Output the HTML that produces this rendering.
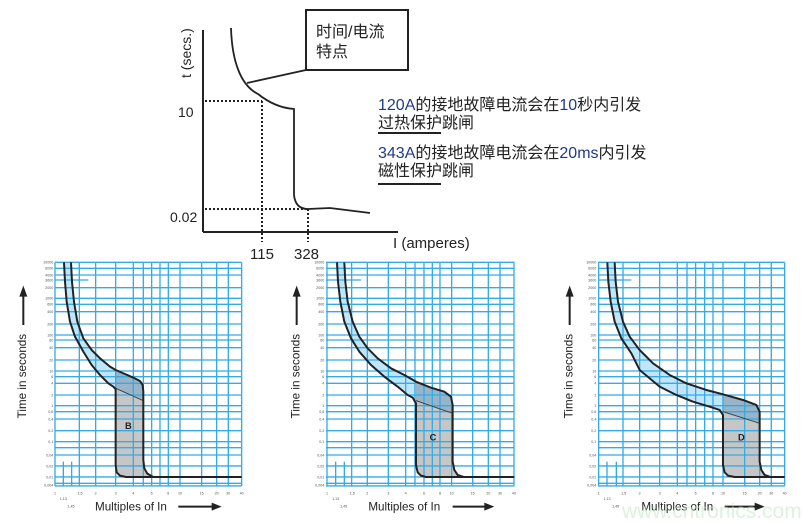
<!DOCTYPE html>
<html><head><meta charset="utf-8"><style>
html,body{margin:0;padding:0;background:#fff;width:803px;height:523px;overflow:hidden}
svg{display:block}
.g line{stroke:#35abe6;stroke-width:4}
.yl text{font-family:"Liberation Sans",sans-serif;font-size:11px;fill:#555;text-anchor:end}
.xl text{font-family:"Liberation Sans",sans-serif;font-size:11px;fill:#555;text-anchor:middle}
.cv{fill:none;stroke:#222;stroke-width:6;stroke-linejoin:round}
.ttl{font-family:"Liberation Sans",sans-serif;font-size:35px;fill:#222}
</style></head><body>
<svg width="803" height="523" viewBox="0 0 803 523" xmlns="http://www.w3.org/2000/svg">
<g font-family="Liberation Sans, sans-serif" fill="#222">
<line x1="203" y1="30" x2="203" y2="232" stroke="#222" stroke-width="2"/>
<line x1="203" y1="232" x2="398" y2="232" stroke="#222" stroke-width="2"/>
<text transform="translate(191,78) rotate(-90)" font-size="14">t (secs.)</text>
<text x="178" y="117" font-size="14">10</text>
<text x="170" y="222" font-size="14">0.02</text>
<path d="M231,28 C232,60 240,85 258,94 C268,102 280,108 294,109 L294,195 C295,205 300,209 308,209 L330,208 L370,213" fill="none" stroke="#222" stroke-width="1.8"/>
<line x1="247" y1="83" x2="306" y2="70" stroke="#222" stroke-width="1.8"/>
<rect x="306" y="10" width="102" height="60" fill="#fff" stroke="#222" stroke-width="2"/>
<text x="316" y="37" font-size="16" font-family="Liberation Sans, Noto Sans CJK SC, sans-serif">时间/电流</text>
<text x="316" y="57" font-size="16" font-family="Liberation Sans, Noto Sans CJK SC, sans-serif">特点</text>
<g stroke="#222" stroke-width="2" stroke-dasharray="2,2">
<line x1="205" y1="101" x2="262" y2="101"/><line x1="262" y1="101" x2="262" y2="242"/>
<line x1="205" y1="209" x2="308" y2="209"/><line x1="308" y1="209" x2="308" y2="242"/>
</g>
<text x="250" y="259" font-size="15">115</text>
<text x="294" y="259" font-size="15">328</text>
<text x="393" y="248" font-size="15">I (amperes)</text>
<g font-size="16" font-family="Liberation Sans, Noto Sans CJK SC, sans-serif">
<text x="378" y="110"><tspan fill="#1f3a8a">120A</tspan>的接地故障电流会在<tspan fill="#1f3a8a">10</tspan>秒内引发</text>
<text x="378" y="128">过热保护跳闸</text>
<text x="378" y="158"><tspan fill="#1f3a8a">343A</tspan>的接地故障电流会在<tspan fill="#1f3a8a">20ms</tspan>内引发</text>
<text x="378" y="176">磁性保护跳闸</text>
</g>
<rect x="378" y="132" width="63" height="2"/>
<rect x="378" y="183" width="63" height="2"/>
</g>

<g transform="translate(0,255) scale(0.3333)">
<polygon fill="#bfe6fb" points="213,22 216,80 222,140 232,200 250,250 275,285 300,310 330,335 347,345 347,402 340,395 325,385 300,360 275,330 250,290 225,245 210,200 200,140 195,80 192,22"/>
<polygon fill="#98b4c8" points="347,345 375,357 400,368 420,378 428,390 430,410 430,437 347,402"/>
<polygon fill="#c6c6c6" points="347,402 430,437 430,615 433,640 442,656 460,666 378,666 360,662 350,652 347,630"/>
<g class="g">
<line x1="165" y1="22" x2="725" y2="22"/><line x1="165" y1="40" x2="725" y2="40"/><line x1="165" y1="60" x2="725" y2="60"/><line x1="165" y1="75" x2="265" y2="75"/><line x1="165" y1="98" x2="725" y2="98"/><line x1="165" y1="130" x2="725" y2="130"/><line x1="165" y1="148" x2="725" y2="148"/><line x1="165" y1="170" x2="725" y2="170"/><line x1="165" y1="207" x2="725" y2="207"/><line x1="165" y1="240" x2="725" y2="240"/><line x1="165" y1="255" x2="725" y2="255"/><line x1="165" y1="278" x2="725" y2="278"/><line x1="165" y1="315" x2="725" y2="315"/><line x1="165" y1="348" x2="725" y2="348"/><line x1="165" y1="365" x2="725" y2="365"/><line x1="165" y1="385" x2="725" y2="385"/><line x1="165" y1="420" x2="725" y2="420"/><line x1="165" y1="452" x2="725" y2="452"/><line x1="165" y1="470" x2="725" y2="470"/><line x1="165" y1="492" x2="725" y2="492"/><line x1="165" y1="527" x2="725" y2="527"/><line x1="165" y1="560" x2="725" y2="560"/><line x1="165" y1="578" x2="725" y2="578"/><line x1="165" y1="600" x2="725" y2="600"/><line x1="165" y1="633" x2="725" y2="633"/><line x1="165" y1="666" x2="725" y2="666"/><line x1="165" y1="685" x2="725" y2="685"/><line x1="165" y1="693" x2="725" y2="693"/>
<line x1="165" y1="22" x2="165" y2="693"/><line x1="190" y1="620" x2="190" y2="693"/><line x1="215" y1="620" x2="215" y2="693"/><line x1="238" y1="22" x2="238" y2="693"/><line x1="287" y1="22" x2="287" y2="693"/><line x1="347" y1="22" x2="347" y2="693"/><line x1="400" y1="22" x2="400" y2="693"/><line x1="430" y1="22" x2="430" y2="693"/><line x1="455" y1="22" x2="455" y2="693"/><line x1="480" y1="22" x2="480" y2="693"/><line x1="505" y1="22" x2="505" y2="693"/><line x1="540" y1="22" x2="540" y2="693"/><line x1="605" y1="22" x2="605" y2="693"/><line x1="650" y1="22" x2="650" y2="693"/><line x1="685" y1="22" x2="685" y2="693"/><line x1="725" y1="22" x2="725" y2="693"/>
</g>
<line x1="347" y1="400" x2="430" y2="437" stroke="#444" stroke-width="3"/>
<polyline class="cv" points="213,22 216,80 222,140 232,200 250,250 275,285 300,310 330,335 347,345 375,357 400,368 420,378 428,390 430,410 430,615 433,640 442,656 460,666 725,666"/>
<polyline class="cv" points="192,22 195,80 200,140 210,200 225,245 250,290 275,330 300,360 325,385 340,395 347,402 347,630 350,652 360,662 378,666 460,666"/>
<text x="385" y="522" font-family="Liberation Sans,sans-serif" font-weight="bold" font-size="28" text-anchor="middle" fill="#222">B</text>
<g class="yl"><text x="160" y="26">10000</text><text x="160" y="44">6000</text><text x="160" y="64">4000</text><text x="160" y="79">3600</text><text x="160" y="102">2000</text><text x="160" y="134">1000</text><text x="160" y="152">600</text><text x="160" y="174">400</text><text x="160" y="211">200</text><text x="160" y="244">100</text><text x="160" y="259">60</text><text x="160" y="282">40</text><text x="160" y="319">20</text><text x="160" y="352">10</text><text x="160" y="369">6</text><text x="160" y="389">4</text><text x="160" y="424">2</text><text x="160" y="456">1</text><text x="160" y="474">0,6</text><text x="160" y="496">0,4</text><text x="160" y="531">0,2</text><text x="160" y="564">0,1</text><text x="160" y="604">0,04</text><text x="160" y="637">0,02</text><text x="160" y="670">0,01</text><text x="160" y="694">0,004</text></g>
<g class="xl"><text x="165" y="718">1</text><text x="190" y="735">1,13</text><text x="213" y="757">1,45</text><text x="240" y="718">1,5</text><text x="287" y="718">2</text><text x="347" y="718">3</text><text x="400" y="718">4</text><text x="455" y="718">6</text><text x="505" y="718">8</text><text x="540" y="718">10</text><text x="605" y="718">15</text><text x="650" y="718">20</text><text x="685" y="718">30</text><text x="725" y="718">40</text></g>
<text class="ttl" x="285" y="767">Multiples of In</text>
<line x1="535" y1="755" x2="640" y2="755" stroke="#222" stroke-width="6"/><polygon points="635,743 665,755 635,767" fill="#222"/>
<text class="ttl" transform="translate(78,490) rotate(-90)">Time in seconds</text>
<line x1="70" y1="210" x2="70" y2="120" stroke="#222" stroke-width="6"/><polygon points="58,125 70,92 82,125" fill="#222"/>
</g>

<g transform="translate(271,255) scale(0.3333)">
<polygon fill="#bfe6fb" points="220,22 223,80 230,140 245,200 265,245 290,280 320,310 360,340 400,360 435,380 435,437 425,428 410,420 380,395 340,365 300,330 265,290 240,250 220,200 208,140 201,80 198,22"/>
<polygon fill="#98b4c8" points="435,380 480,398 520,410 540,425 545,450 545,475 435,437"/>
<polygon fill="#c6c6c6" points="435,437 545,475 545,620 550,645 560,660 578,666 465,666 450,662 440,652 435,630"/>
<g class="g">
<line x1="165" y1="22" x2="730" y2="22"/><line x1="165" y1="40" x2="730" y2="40"/><line x1="165" y1="60" x2="730" y2="60"/><line x1="165" y1="75" x2="270" y2="75"/><line x1="165" y1="98" x2="730" y2="98"/><line x1="165" y1="130" x2="730" y2="130"/><line x1="165" y1="148" x2="730" y2="148"/><line x1="165" y1="170" x2="730" y2="170"/><line x1="165" y1="207" x2="730" y2="207"/><line x1="165" y1="240" x2="730" y2="240"/><line x1="165" y1="255" x2="730" y2="255"/><line x1="165" y1="278" x2="730" y2="278"/><line x1="165" y1="315" x2="730" y2="315"/><line x1="165" y1="348" x2="730" y2="348"/><line x1="165" y1="365" x2="730" y2="365"/><line x1="165" y1="385" x2="730" y2="385"/><line x1="165" y1="420" x2="730" y2="420"/><line x1="165" y1="452" x2="730" y2="452"/><line x1="165" y1="470" x2="730" y2="470"/><line x1="165" y1="492" x2="730" y2="492"/><line x1="165" y1="527" x2="730" y2="527"/><line x1="165" y1="560" x2="730" y2="560"/><line x1="165" y1="578" x2="730" y2="578"/><line x1="165" y1="600" x2="730" y2="600"/><line x1="165" y1="633" x2="730" y2="633"/><line x1="165" y1="666" x2="730" y2="666"/><line x1="165" y1="685" x2="730" y2="685"/><line x1="165" y1="693" x2="730" y2="693"/>
<line x1="168" y1="22" x2="168" y2="693"/><line x1="194" y1="620" x2="194" y2="693"/><line x1="220" y1="620" x2="220" y2="693"/><line x1="242" y1="22" x2="242" y2="693"/><line x1="289" y1="22" x2="289" y2="693"/><line x1="352" y1="22" x2="352" y2="693"/><line x1="404" y1="22" x2="404" y2="693"/><line x1="432" y1="22" x2="432" y2="693"/><line x1="459" y1="22" x2="459" y2="693"/><line x1="484" y1="22" x2="484" y2="693"/><line x1="507" y1="22" x2="507" y2="693"/><line x1="542" y1="22" x2="542" y2="693"/><line x1="605" y1="22" x2="605" y2="693"/><line x1="652" y1="22" x2="652" y2="693"/><line x1="687" y1="22" x2="687" y2="693"/><line x1="729" y1="22" x2="729" y2="693"/>
</g>
<line x1="435" y1="437" x2="545" y2="475" stroke="#444" stroke-width="3"/>
<polyline class="cv" points="220,22 223,80 230,140 245,200 265,245 290,280 320,310 360,340 400,360 435,380 480,398 520,410 540,425 545,450 545,620 550,645 560,660 578,666 730,666"/>
<polyline class="cv" points="198,22 201,80 208,140 220,200 240,250 265,290 300,330 340,365 380,395 410,420 425,428 435,445 435,630 440,652 450,662 465,666 578,666"/>
<text x="486" y="556" font-family="Liberation Sans,sans-serif" font-weight="bold" font-size="28" text-anchor="middle" fill="#222">C</text>
<g class="yl"><text x="160" y="26">10000</text><text x="160" y="44">6000</text><text x="160" y="64">4000</text><text x="160" y="79">3600</text><text x="160" y="102">2000</text><text x="160" y="134">1000</text><text x="160" y="152">600</text><text x="160" y="174">400</text><text x="160" y="211">200</text><text x="160" y="244">100</text><text x="160" y="259">60</text><text x="160" y="282">40</text><text x="160" y="319">20</text><text x="160" y="352">10</text><text x="160" y="369">6</text><text x="160" y="389">4</text><text x="160" y="424">2</text><text x="160" y="456">1</text><text x="160" y="474">0,6</text><text x="160" y="496">0,4</text><text x="160" y="531">0,2</text><text x="160" y="564">0,1</text><text x="160" y="604">0,04</text><text x="160" y="637">0,02</text><text x="160" y="670">0,01</text><text x="160" y="694">0,004</text></g>
<g class="xl"><text x="168" y="718">1</text><text x="194" y="735">1,13</text><text x="218" y="757">1,45</text><text x="244" y="718">1,5</text><text x="289" y="718">2</text><text x="352" y="718">3</text><text x="404" y="718">4</text><text x="459" y="718">6</text><text x="507" y="718">8</text><text x="542" y="718">10</text><text x="605" y="718">15</text><text x="652" y="718">20</text><text x="687" y="718">30</text><text x="729" y="718">40</text></g>
<text class="ttl" x="292" y="767">Multiples of In</text>
<line x1="545" y1="755" x2="645" y2="755" stroke="#222" stroke-width="6"/><polygon points="640,743 670,755 640,767" fill="#222"/>
<text class="ttl" transform="translate(85,490) rotate(-90)">Time in seconds</text>
<line x1="77" y1="210" x2="77" y2="120" stroke="#222" stroke-width="6"/><polygon points="65,125 77,92 89,125" fill="#222"/>
</g>

<g transform="translate(543,255) scale(0.3333)">
<polygon fill="#bfe6fb" points="215,22 218,80 225,140 240,200 260,245 290,285 330,325 380,360 430,385 490,405 540,418 540,470 530,465 500,455 450,440 400,420 350,395 290,345 265,295 235,250 215,200 203,140 196,80 193,22"/>
<polygon fill="#98b4c8" points="540,418 600,435 640,450 650,470 650,505 540,470"/>
<polygon fill="#c6c6c6" points="540,470 650,505 650,620 655,645 665,660 682,666 575,666 555,662 545,652 540,630"/>
<g class="g">
<line x1="165" y1="22" x2="725" y2="22"/><line x1="165" y1="40" x2="725" y2="40"/><line x1="165" y1="60" x2="725" y2="60"/><line x1="165" y1="75" x2="265" y2="75"/><line x1="165" y1="98" x2="725" y2="98"/><line x1="165" y1="130" x2="725" y2="130"/><line x1="165" y1="148" x2="725" y2="148"/><line x1="165" y1="170" x2="725" y2="170"/><line x1="165" y1="207" x2="725" y2="207"/><line x1="165" y1="240" x2="725" y2="240"/><line x1="165" y1="255" x2="725" y2="255"/><line x1="165" y1="278" x2="725" y2="278"/><line x1="165" y1="315" x2="725" y2="315"/><line x1="165" y1="348" x2="725" y2="348"/><line x1="165" y1="365" x2="725" y2="365"/><line x1="165" y1="385" x2="725" y2="385"/><line x1="165" y1="420" x2="725" y2="420"/><line x1="165" y1="452" x2="725" y2="452"/><line x1="165" y1="470" x2="725" y2="470"/><line x1="165" y1="492" x2="725" y2="492"/><line x1="165" y1="527" x2="725" y2="527"/><line x1="165" y1="560" x2="725" y2="560"/><line x1="165" y1="578" x2="725" y2="578"/><line x1="165" y1="600" x2="725" y2="600"/><line x1="165" y1="633" x2="725" y2="633"/><line x1="165" y1="666" x2="725" y2="666"/><line x1="165" y1="685" x2="725" y2="685"/><line x1="165" y1="693" x2="725" y2="693"/>
<line x1="167" y1="22" x2="167" y2="693"/><line x1="192" y1="620" x2="192" y2="693"/><line x1="220" y1="620" x2="220" y2="693"/><line x1="240" y1="22" x2="240" y2="693"/><line x1="290" y1="22" x2="290" y2="693"/><line x1="350" y1="22" x2="350" y2="693"/><line x1="403" y1="22" x2="403" y2="693"/><line x1="432" y1="22" x2="432" y2="693"/><line x1="458" y1="22" x2="458" y2="693"/><line x1="485" y1="22" x2="485" y2="693"/><line x1="510" y1="22" x2="510" y2="693"/><line x1="540" y1="22" x2="540" y2="693"/><line x1="605" y1="22" x2="605" y2="693"/><line x1="650" y1="22" x2="650" y2="693"/><line x1="685" y1="22" x2="685" y2="693"/><line x1="725" y1="22" x2="725" y2="693"/>
</g>
<line x1="540" y1="470" x2="650" y2="505" stroke="#444" stroke-width="3"/>
<polyline class="cv" points="215,22 218,80 225,140 240,200 260,245 290,285 330,325 380,360 430,385 490,405 540,418 600,435 640,450 650,470 650,620 655,645 665,660 682,666 725,666"/>
<polyline class="cv" points="193,22 196,80 203,140 215,200 235,250 265,295 290,345 350,395 400,420 450,440 500,455 530,465 540,480 540,630 545,652 555,662 575,666 682,666"/>
<text x="595" y="556" font-family="Liberation Sans,sans-serif" font-weight="bold" font-size="28" text-anchor="middle" fill="#222">D</text>
<g class="yl"><text x="160" y="26">10000</text><text x="160" y="44">6000</text><text x="160" y="64">4000</text><text x="160" y="79">3600</text><text x="160" y="102">2000</text><text x="160" y="134">1000</text><text x="160" y="152">600</text><text x="160" y="174">400</text><text x="160" y="211">200</text><text x="160" y="244">100</text><text x="160" y="259">60</text><text x="160" y="282">40</text><text x="160" y="319">20</text><text x="160" y="352">10</text><text x="160" y="369">6</text><text x="160" y="389">4</text><text x="160" y="424">2</text><text x="160" y="456">1</text><text x="160" y="474">0,6</text><text x="160" y="496">0,4</text><text x="160" y="531">0,2</text><text x="160" y="564">0,1</text><text x="160" y="604">0,04</text><text x="160" y="637">0,02</text><text x="160" y="670">0,01</text><text x="160" y="694">0,004</text></g>
<g class="xl"><text x="167" y="718">1</text><text x="192" y="735">1,13</text><text x="218" y="757">1,45</text><text x="242" y="718">1,5</text><text x="290" y="718">2</text><text x="350" y="718">3</text><text x="403" y="718">4</text><text x="458" y="718">6</text><text x="510" y="718">8</text><text x="540" y="718">10</text><text x="605" y="718">15</text><text x="650" y="718">20</text><text x="685" y="718">30</text><text x="725" y="718">40</text></g>
<text class="ttl" x="295" y="767">Multiples of In</text>
<line x1="545" y1="755" x2="640" y2="755" stroke="#222" stroke-width="6"/><polygon points="635,743 665,755 635,767" fill="#222"/>
<text class="ttl" transform="translate(88,490) rotate(-90)">Time in seconds</text>
<line x1="80" y1="210" x2="80" y2="120" stroke="#222" stroke-width="6"/><polygon points="68,125 80,92 92,125" fill="#222"/>
</g>
<text x="622" y="518" font-family="Liberation Sans,sans-serif" font-size="21" fill="#bfe8bf" fill-opacity="0.55">www.cntronics.com</text>
</svg>
</body></html>
